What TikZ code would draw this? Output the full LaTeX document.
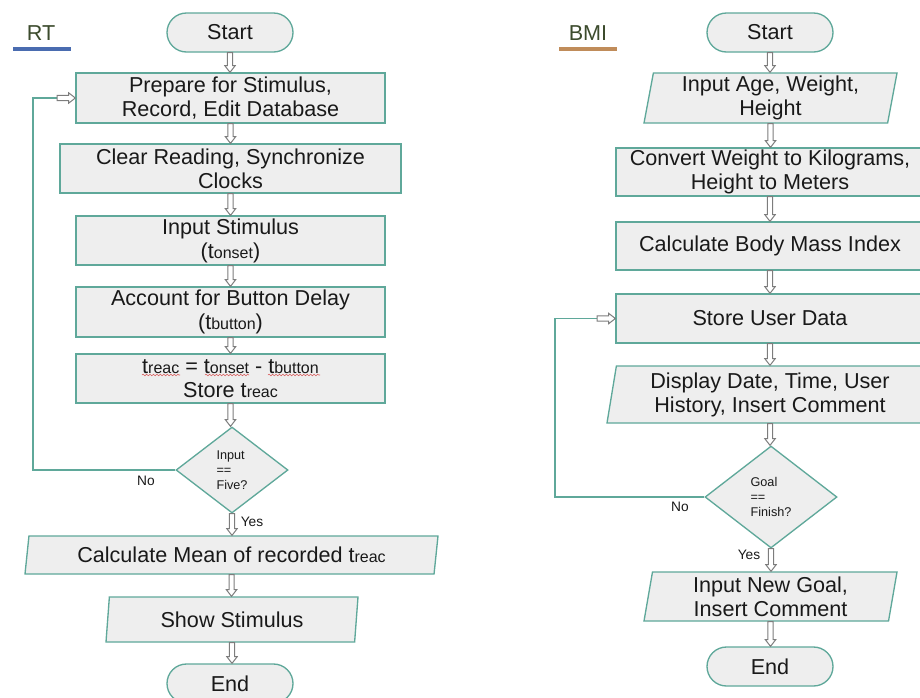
\documentclass[tikz,border=0pt]{standalone}
\usepackage{fontspec}
\setmainfont{Liberation Sans}
\usetikzlibrary{shapes.geometric,calc,decorations.pathmorphing}
\definecolor{tealline}{RGB}{95,168,154}
\definecolor{boxfill}{RGB}{238,238,238}
\definecolor{arrowgray}{RGB}{125,125,125}
\definecolor{labelgreen}{RGB}{60,75,45}
\definecolor{rtblue}{RGB}{74,108,176}
\definecolor{bmibrown}{RGB}{192,140,90}
\definecolor{squigred}{RGB}{215,90,90}
\definecolor{textblack}{RGB}{25,25,25}
\newcommand\tsub[1]{t{\fontsize{12pt}{12pt}\selectfont #1}}
\begin{document}
\begin{tikzpicture}[x=0.75pt,y=-0.75pt,
  base/.style={draw=tealline, fill=boxfill, line width=1pt, text=textblack,
    font=\fontsize{16.2pt}{18pt}\selectfont, align=center, inner sep=0pt},
  procbox/.style={base, rectangle},
  term/.style={base, rectangle, rounded corners=14.6pt, minimum width=94.5pt, minimum height=29.25pt},
  iobox/.style={base, trapezium, trapezium left angle=78, trapezium right angle=102,
    trapezium stretches body},
  decision/.style={base, diamond, font=\fontsize{9.5pt}{11.2pt}\selectfont, align=left},
  lbl/.style={font=\fontsize{10.3pt}{12pt}\selectfont, text=textblack, inner sep=0pt},
  title/.style={font=\fontsize{16.2pt}{18pt}\selectfont, text=labelgreen, inner sep=0pt},
  loopline/.style={draw=tealline, line width=1.1pt},
  squig/.style={draw=squigred, line width=0.4pt, decorate, decoration={snake, amplitude=0.6pt, segment length=2.6pt}},
  varrow/.style={draw=arrowgray, fill=white, line width=0.75pt,
    to path={let \p1=(\tikztostart), \p2=(\tikztotarget) in
      (\x1-1.9pt,\y1) -- (\x1-1.9pt,\y2+5pt) -- (\x1-3.9pt,\y2+5pt) -- (\x1,\y2)
      -- (\x1+3.9pt,\y2+5pt) -- (\x1+1.9pt,\y2+5pt) -- (\x1+1.9pt,\y1) -- cycle}},
  harrow/.style={draw=arrowgray, fill=white, line width=0.75pt,
    to path={let \p1=(\tikztostart), \p2=(\tikztotarget) in
      (\x1,\y1-1.9pt) -- (\x2-5pt,\y1-1.9pt) -- (\x2-5pt,\y1-3.9pt) -- (\x2,\y1)
      -- (\x2-5pt,\y1+3.9pt) -- (\x2-5pt,\y1+1.9pt) -- (\x1,\y1+1.9pt) -- cycle}}
]
\useasboundingbox (0,0) rectangle (920,697);
\clip (0,0) rectangle (920,697);

% ---------------- RT ----------------
\node[title] (rt) at (41,33) {RT};
\draw[rtblue, line width=2.3pt] (13,49) -- (71,49);

\node[term] (ls) at (230,32.5) {Start};
\node[procbox, minimum width=231.75pt, minimum height=37.5pt] (l1) at (230.5,98) {Prepare for Stimulus,\\Record, Edit Database};
\node[procbox, minimum width=255.75pt, minimum height=36.75pt] (l2) at (230.5,168.5) {Clear Reading, Synchronize\\Clocks};
\node[procbox, minimum width=231.75pt, minimum height=36.75pt] (l3) at (230.5,240.5) {Input Stimulus\\(\tsub{onset})};
\node[procbox, minimum width=231.75pt, minimum height=37.5pt] (l4) at (230.5,312) {Account for Button Delay\\(\tsub{button})};
\node[procbox, minimum width=231.75pt, minimum height=36.75pt] (l5) at (230.5,378.5) {\tsub{reac} = \tsub{onset} - \tsub{button}\\Store \tsub{reac}};
\node[decision, minimum width=84pt, minimum height=64.5pt] (ld) at (232,470) {Input\\==\\Five?};
\node[iobox, trapezium left angle=76, trapezium right angle=104, minimum width=309.75pt, minimum height=28.5pt] (lm) at (231.5,555) {Calculate Mean of recorded \tsub{reac}};
\node[iobox, minimum width=189pt, minimum height=33.75pt] (lss) at (232,619.5) {Show Stimulus};
\node[term] (le) at (230,683.5) {End};

\draw[squig] (142,375) -- (180,375);
\draw[squig] (205,375) -- (249,375);
\draw[squig] (268,375) -- (320,375);

\draw[varrow] (ls.south) to (l1.north);
\draw[varrow] (l1.south) to (l2.north);
\draw[varrow] (l2.south) to (l3.north);
\draw[varrow] (l3.south) to (l4.north);
\draw[varrow] (l4.south) to (l5.north);
\draw[varrow] (l5.south) to (ld.north);
\draw[varrow] (ld.south) to (lm.north);
\draw[varrow] (lm.south) to (lss.north);
\draw[varrow] (lss.south) to (le.north);

\coordinate (lc) at (33,98);
\coordinate (la) at (57,98);
\draw[loopline] (ld.west) -| (lc) -- (la);
\draw[harrow] (la) to (l1.west);
\node[lbl] (lno) at (146,481) {No};
\node[lbl] (lyes) at (252,522) {Yes};

% ---------------- BMI ----------------
\node[title] (bmi) at (588,33) {BMI};
\draw[bmibrown, line width=2.3pt] (559,49) -- (617,49);

\node[term] (rs) at (770,32.5) {Start};
\node[iobox, minimum width=189.75pt, minimum height=37.5pt] (r1) at (770.5,98) {Input Age, Weight,\\Height};
\node[procbox, minimum width=231pt, minimum height=36pt] (r2) at (770,172) {Convert Weight to Kilograms,\\Height to Meters};
\node[procbox, minimum width=231pt, minimum height=36pt] (r3) at (770,246) {Calculate Body Mass Index};
\node[procbox, minimum width=231pt, minimum height=36.75pt] (r4) at (770,318.5) {Store User Data};
\node[iobox, minimum width=244.5pt, minimum height=42.75pt] (r5) at (770,394.5) {Display Date, Time, User\\History, Insert Comment};
\node[decision, minimum width=99pt, minimum height=76.5pt] (rd) at (771,497) {Goal\\==\\Finish?};
\node[iobox, minimum width=189.75pt, minimum height=36.75pt] (r6) at (770.5,596.5) {Input New Goal,\\Insert Comment};
\node[term] (re) at (770,666.5) {End};

\draw[varrow] (rs.south) to (r1.north);
\draw[varrow] (r1.south) to (r2.north);
\draw[varrow] (r2.south) to (r3.north);
\draw[varrow] (r3.south) to (r4.north);
\draw[varrow] (r4.south) to (r5.north);
\draw[varrow] (r5.south) to (rd.north);
\draw[varrow] (rd.south) to (r6.north);
\draw[varrow] (r6.south) to (re.north);

\coordinate (rc) at (555,318.5);
\coordinate (ra) at (597,318.5);
\draw[loopline] (rd.west) -| (rc) -- (ra);
\draw[harrow] (ra) to (r4.west);
\node[lbl] (rno) at (680,507) {No};
\node[lbl] (ryes) at (749,555) {Yes};
\end{tikzpicture}
\end{document}
